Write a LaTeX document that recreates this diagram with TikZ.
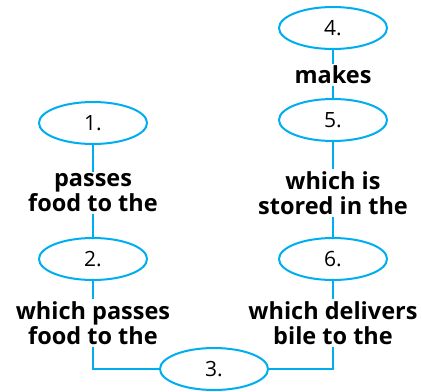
\documentclass[tikz,border=0pt]{standalone}
\usepackage{fontspec}
\setmainfont{Open Sans}
\usetikzlibrary{shapes.geometric}
\definecolor{cyanline}{RGB}{0,174,239}
\tikzset{
  oval/.style={ellipse, draw=cyanline, line width=2pt, minimum width=108pt, minimum height=42pt, inner sep=0pt, font=\fontsize{21}{23}\selectfont},
  lbl/.style={align=center, inner sep=2pt, font=\fontsize{23.5}{25}\selectfont\bfseries},
  conn/.style={draw=cyanline, line width=2pt}
}
\begin{document}
\begin{tikzpicture}[x=1pt,y=-1pt]
\useasboundingbox (0,0) rectangle (422,391);
\node[oval] (e4) at (333,28) {4.};
\node[oval] (e5) at (333,120) {5.};
\node[oval] (e1) at (93,123) {1.};
\node[oval] (e2) at (93,259) {2.};
\node[oval] (e6) at (333,259) {6.};
\node[oval] (e3) at (214,369) {3.};
\node[lbl] (l4) at (333,75) {makes};
\node[lbl] (l1) at (93,193) {passes\\food to the};
\node[lbl] (l5) at (333,193) {which is\\stored in the};
\node[lbl] (l2) at (93,323) {which passes\\food to the};
\node[lbl] (l6) at (333,323) {which delivers\\bile to the};
\path[conn] (e4) -- (l4);
\path[conn] (l4) -- (e5);
\path[conn] (e1) -- (l1);
\path[conn] (l1) -- (e2);
\path[conn] (e5) -- (l5);
\path[conn] (l5) -- (e6);
\path[conn] (e2) -- (l2);
\path[conn] (l2) |- (e3);
\path[conn] (e6) -- (l6);
\path[conn] (l6) |- (e3);
\end{tikzpicture}
\end{document}
